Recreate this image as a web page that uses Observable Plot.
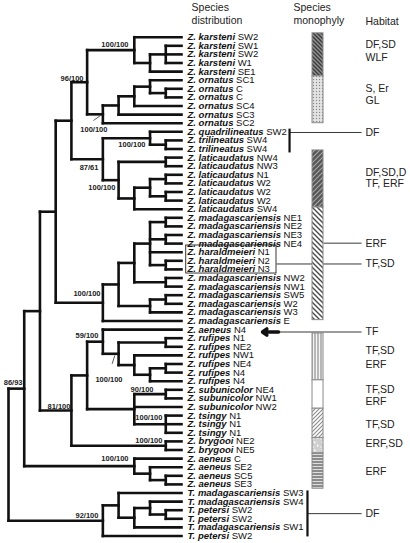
<!DOCTYPE html>
<html><head><meta charset="utf-8">
<script src="https://cdn.jsdelivr.net/npm/d3@7"></script>
<script src="https://cdn.jsdelivr.net/npm/@observablehq/plot@0.6"></script>
<style>body{margin:0;background:#fff}svg{display:block}</style>
</head><body><div id="chart"></div>
<script>
// ---------- DATA ----------
const genus = Array(53).fill("Z.").concat(Array(6).fill("T."));
const species = [
  "karsteni","karsteni","karsteni","karsteni","karsteni",
  "ornatus","ornatus","ornatus","ornatus","ornatus","ornatus",
  "quadrilineatus","trilineatus","trilineatus",
  "laticaudatus","laticaudatus","laticaudatus","laticaudatus","laticaudatus","laticaudatus","laticaudatus",
  "madagascariensis","madagascariensis","madagascariensis","madagascariensis",
  "haraldmeieri","haraldmeieri","haraldmeieri",
  "madagascariensis","madagascariensis","madagascariensis","madagascariensis","madagascariensis","madagascariensis",
  "aeneus",
  "rufipes","rufipes","rufipes","rufipes","rufipes","rufipes",
  "subunicolor","subunicolor","subunicolor",
  "tsingy","tsingy","tsingy",
  "brygooi","brygooi",
  "aeneus","aeneus","aeneus","aeneus",
  "madagascariensis","madagascariensis","petersi","petersi","madagascariensis","petersi"
];
const locality = [
  "SW2","SW1","SW2","W1","SE1",
  "SC1","C","C","SC4","SC3","SC2",
  "SW2","SW4","SW4",
  "NW4","NW3","N1","W2","W2","W2","SW4",
  "NE1","NE2","NE3","NE4",
  "N1","N2","N3",
  "NW2","NW1","SW5","W2","W3","E",
  "N4",
  "N1","NE2","NW1","NE4","N4","N4",
  "NE4","NW1","NW2",
  "N1","N1","N1",
  "NE2","NE5",
  "C","SE2","SC5","SE3",
  "SW3","SW4","SW2","SW2","SW1","SW2"
];
// tree topology: leaves are row indices, internal node labels are depth levels (0 = root, 11 = tips)
const cladeKarsteni = "(0,((1,2,3)10,4)9)8";
const cladeOrnatus = "((((5,(6,7)10)9,8)8,9)7,10)6";
const cladeTrilin = "((11,(12,13)10)9,((14,15)10,(((16,17)10,(18,19)10)9,20)8)7)6";
const cladeMadag = "(((((21,22)10,(23,24)10,25,(26,27)10)9,(28,29)10)8,((30,31)10,32)9)7,33)6";
const cladeRufipes = "(((34,((35,36)10,(37,((38,39)10,40)9)8)7)6,((41,42)10,43,(44,45,46)10)8)5,(47,48)10)4";
const cladeAeneus = "(49,(50,(51,52)10)9)8";
const cladeTrach = "((53,((54,(55,56)10)9,57)8)7,58)6";
const newick = `((((((${cladeKarsteni},${cladeOrnatus})5,${cladeTrilin})4,${cladeMadag})3,${cladeRufipes})2,${cladeAeneus})1,${cladeTrach})0`;

const supportText = ["100/100","96/100","100/100","100/100","87/61","100/100","100/100","59/100","100/100","86/93","90/100","81/100","100/100","100/100","100/100","92/100"];
const supportX = [7.63,4.77,6.29,8.71,5.72,6.80,5.85,5.72,7.25,0.89,9.22,3.94,9.79,9.79,7.63,5.72];
const supportY = [0.85,4.77,10.73,12.48,15.15,17.44,29.80,34.69,39.84,40.15,40.95,43.0,44.19,46.85,49.0,55.62];
const slashX1 = [5.40, 6.59], slashY1 = [9.69, 37.98], slashX2 = [5.85, 6.76], slashY2 = [9.11, 37.01];

const segStart = [-0.45, 4.55, 13.17, 19.8, 34.45, 39.9, 43.2, 46.6, 48.4];
const segEnd   = [4.55, 10.0, 19.8, 32.9, 39.9, 43.2, 46.6, 48.4, 52.5];
const segPattern = ["pK","pO","pL","pM","pR","pS","pT","pB","pA"];

const habitatText = ["DF,SD","WLF","S, Er","GL","DF","DF,SD,D","TF, ERF","ERF","TF,SD","TF","TF,SD","ERF","TF,SD","ERF","TF,SD","ERF,SD","ERF","DF"];
const habitatRow = [0.85,2.36,5.97,7.36,11.08,15.73,17.0,23.95,26.37,34.28,36.43,38.06,40.97,42.37,45.05,47.26,50.5,55.4];
const connFrom = [17.87, 20.03, 17.04, 17.17, 19.01];
const connRow = [11.08, 23.95, 26.37, 34.28, 55.4];
const groupLineX = [17.87, 19.01], groupLineTop = [10.63, 52.7], groupLineBottom = [13.4, 58.05];
const headerText = ["Species","distribution","Species","monophyly","Habitat"];
const headerX = [11.64, 11.64, 18.12, 18.12, 22.70];
const headerY = [-3.45, -1.94, -3.45, -1.94, -1.83];

// ---------- LAYOUT ----------
const TIP = 11, BAR_X1 = 19.33, BAR_X2 = 20.03, LINE_END = 22.45, HAB_X = 22.70;
function parseNewick(s) {
  let i = 0;
  function num() { const m = /^-?\d+/.exec(s.slice(i)); i += m[0].length; return +m[0]; }
  function node() {
    if (s[i] === "(") {
      i++; const children = [];
      for (;;) { children.push(node()); if (s[i] === ",") { i++; continue; } i++; break; }
      return {level: num(), children};
    }
    const leaf = num(); return {leaf, level: TIP};
  }
  return node();
}
const root = parseNewick(newick);
const hLinks = [], vLinks = [];
(function layout(n) {
  if (n.children) {
    n.children.forEach(layout);
    const f = n.children[0], l = n.children[n.children.length - 1];
    n.y = (f.y + l.y) / 2;
    vLinks.push({x: n.level, y1: f.y, y2: l.y});
    n.children.forEach(c => hLinks.push({x1: n.level, x2: c.level, y: c.y}));
  } else n.y = n.leaf;
})(root);

const FONT = "'Liberation Sans', Arial, sans-serif";
const LEAF_FS = 9.5;
const rows = species.map((s, i) => ({i, name: `${genus[i]} ${s}`, loc: locality[i]}));
const ctx = document.createElement("canvas").getContext("2d");
const names = [...new Set(rows.map(r => r.name))];
const locMarks = names.map(nm => {
  ctx.font = `italic bold ${LEAF_FS}px ${FONT}`;
  const w = ctx.measureText(nm).width;
  ctx.font = `${LEAF_FS}px ${FONT}`;
  const sp = ctx.measureText(" ").width;
  return Plot.text(rows.filter(r => r.name === nm), {x: TIP, y: "i", text: "loc", dx: 6 + w + sp, textAnchor: "start", fontSize: LEAF_FS, fill: "#111"});
});

const supports = supportText.map((t, k) => ({t, x: supportX[k], y: supportY[k]}));
const slashes = slashX1.map((x1, k) => ({x1, y1: slashY1[k], x2: slashX2[k], y2: slashY2[k]}));
const segs = segStart.map((a, k) => ({y1: a, y2: segEnd[k], pat: `url(#${segPattern[k]})`}));
const habitats = habitatText.map((t, k) => ({t, y: habitatRow[k]}));
const conns = connFrom.map((x1, k) => ({x1, y: connRow[k]}));
const groups = groupLineX.map((x, k) => ({x, y1: groupLineTop[k], y2: groupLineBottom[k]}));
const headers = headerText.map((t, k) => ({t, x: headerX[k], y: headerY[k]}));

const svg = Plot.plot({
  width: 410, height: 543,
  marginTop: 0, marginRight: 0, marginBottom: 0, marginLeft: 0,
  x: {domain: [0, TIP], range: [8, 181], axis: null},
  y: {domain: [0, 58], range: [36.7, 535.5], axis: null},
  color: {type: "identity"},
  style: {fontFamily: FONT, fontSize: "10px", background: "white", color: "#111", overflow: "visible"},
  marks: [
    Plot.link(conns, {x1: "x1", x2: LINE_END, y1: "y", y2: "y", stroke: "#222", strokeWidth: 0.9}),
    Plot.rect([{}], {x1: 11.30, x2: 17.04, y1: 24.22, y2: 27.48, fill: "none", stroke: "#222", strokeWidth: 0.9}),
    Plot.rect(segs, {x1: BAR_X1, x2: BAR_X2, y1: "y1", y2: "y2", fill: d => d.pat, stroke: "#8a8a8a", strokeWidth: 1}),
    Plot.link(groups, {x1: "x", x2: "x", y1: "y1", y2: "y2", stroke: "#111", strokeWidth: 2.2}),
    Plot.arrow([{}], {x1: 17.17, x2: 16.15, y1: 34.28, y2: 34.28, stroke: "#111", strokeWidth: 3.5, headLength: 7, headAngle: 70}),
    Plot.link(vLinks, {x1: "x", x2: "x", y1: "y1", y2: "y2", stroke: "#111", strokeWidth: 2.6, strokeLinecap: "square"}),
    Plot.link(hLinks, {x1: "x1", x2: "x2", y1: "y", y2: "y", stroke: "#111", strokeWidth: 2.6, strokeLinecap: "square"}),
    Plot.link(slashes, {x1: "x1", y1: "y1", x2: "x2", y2: "y2", stroke: "#333", strokeWidth: 0.8}),
    Plot.text(supports, {x: "x", y: "y", text: "t", textAnchor: "end", fontWeight: "bold", fontSize: 7.5, fill: "#222"}),
    Plot.text(rows, {x: TIP, y: "i", text: "name", dx: 6, textAnchor: "start", fontWeight: "bold", fontStyle: "italic", fontSize: LEAF_FS, fill: "#111"}),
    ...locMarks,
    Plot.text(habitats, {x: HAB_X, y: "y", text: "t", textAnchor: "start", fontSize: 10.5, fill: "#222"}),
    Plot.text(headers, {x: "x", y: "y", text: "t", textAnchor: "start", fontSize: 10.5, fill: "#222"})
  ]
});

const defs = d3.select(svg).insert("defs", ":first-child");
function pat(id, w, h, draw) {
  const p = defs.append("pattern").attr("id", id).attr("patternUnits", "userSpaceOnUse").attr("width", w).attr("height", h);
  draw(p);
}
pat("pK", 4, 4, p => { p.append("rect").attr("width", 4).attr("height", 4).attr("fill", "#8e8e8e");
  p.append("path").attr("d", "M0,0L4,4M-1,3L1,5M3,-1L5,1").attr("stroke", "#3a3a3a").attr("stroke-width", 1.3); });
pat("pO", 3, 3, p => { p.append("rect").attr("width", 3).attr("height", 3).attr("fill", "#e4e4e4");
  p.append("circle").attr("cx", 1.5).attr("cy", 1.5).attr("r", 0.7).attr("fill", "#8a8a8a"); });
pat("pL", 5, 5, p => { p.append("rect").attr("width", 5).attr("height", 5).attr("fill", "#575757");
  p.append("path").attr("d", "M0,5L5,0M-1,1L1,-1M4,6L6,4").attr("stroke", "#a8a8a8").attr("stroke-width", 1.1); });
pat("pM", 5, 5, p => { p.append("rect").attr("width", 5).attr("height", 5).attr("fill", "#fff");
  p.append("path").attr("d", "M0,0L5,5M-1,4L1,6M4,-1L6,1").attr("stroke", "#4a4a4a").attr("stroke-width", 1.4); });
pat("pR", 3, 3, p => { p.append("rect").attr("width", 3).attr("height", 3).attr("fill", "#b8b8b8");
  p.append("path").attr("d", "M1.5,0L1.5,3").attr("stroke", "#f4f4f4").attr("stroke-width", 1); });
pat("pS", 4, 4, p => { p.append("rect").attr("width", 4).attr("height", 4).attr("fill", "#fff"); });
pat("pT", 4, 4, p => { p.append("rect").attr("width", 4).attr("height", 4).attr("fill", "#fff");
  p.append("path").attr("d", "M0,4L4,0M-1,1L1,-1M3,5L5,3").attr("stroke", "#8a8a8a").attr("stroke-width", 1.1); });
pat("pB", 8, 8, p => { p.append("rect").attr("width", 8).attr("height", 8).attr("fill", "#cfcfcf");
  p.append("path").attr("d", "M1,1L4,2L3,4ZM5,4L7,6L5,7ZM0,6L2,7L1,8Z").attr("fill", "#fafafa"); });
pat("pA", 4, 3, p => { p.append("rect").attr("width", 4).attr("height", 3).attr("fill", "#8c8c8c");
  p.append("path").attr("d", "M0,1.5L4,1.5").attr("stroke", "#e8e8e8").attr("stroke-width", 0.9); });

document.getElementById("chart").appendChild(svg);
</script></body></html>
